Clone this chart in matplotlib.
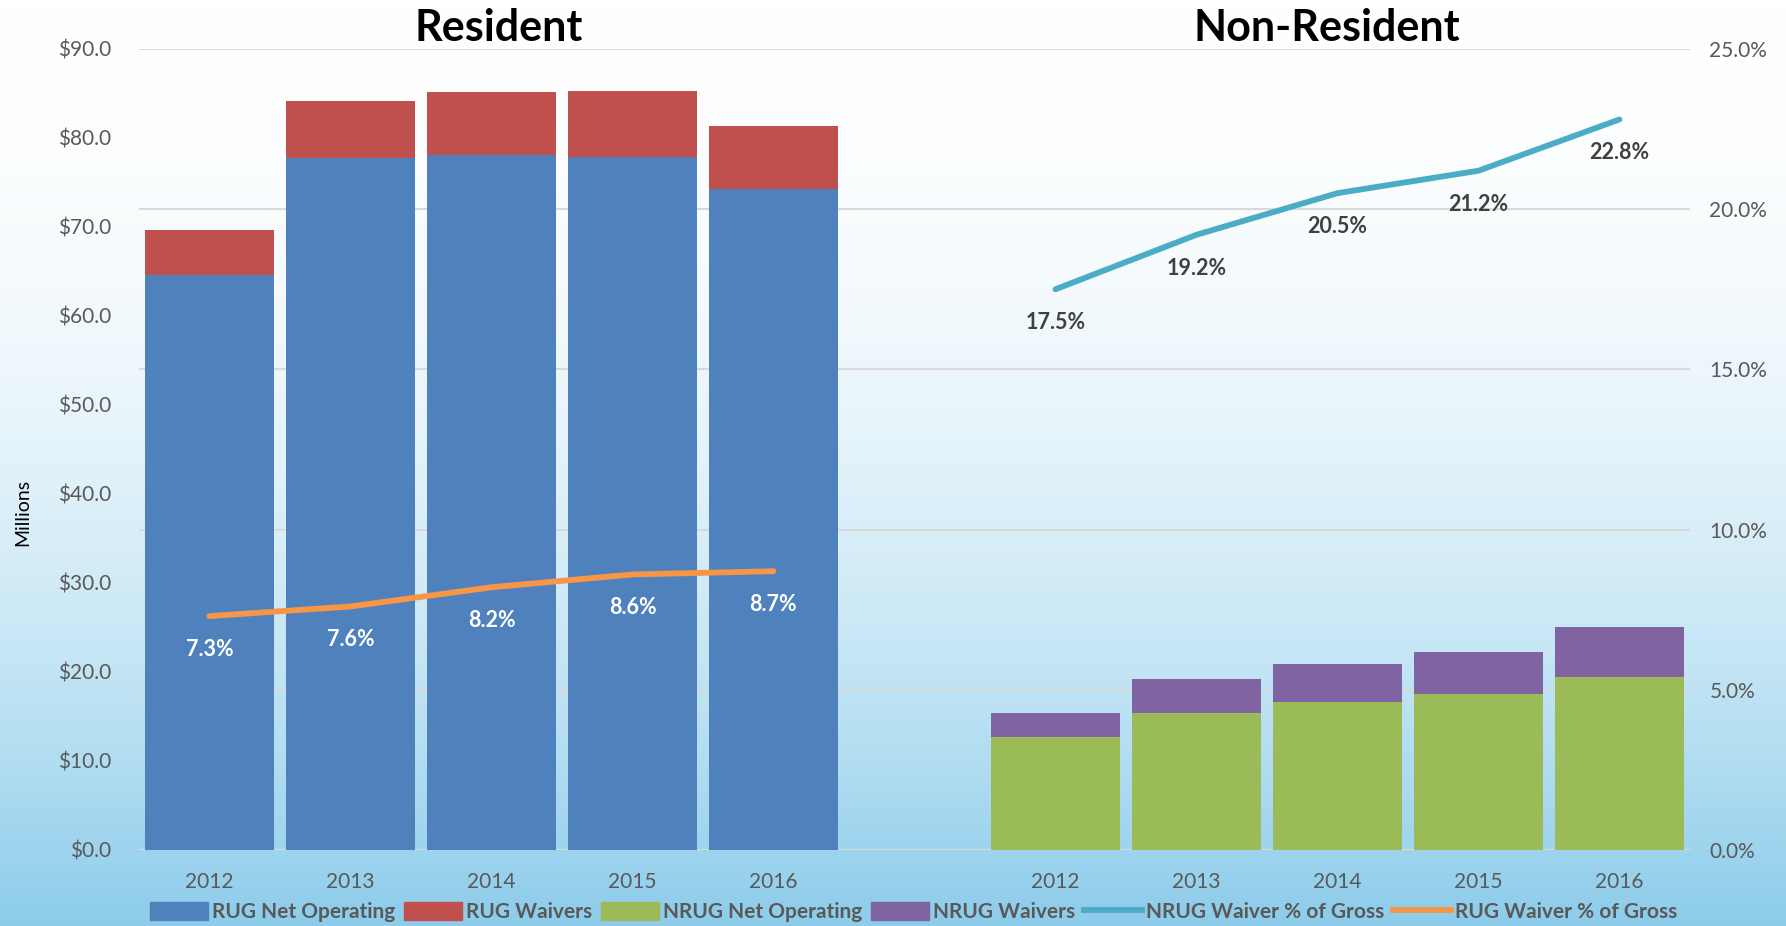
import numpy as np
import matplotlib
matplotlib.use("Agg")
import matplotlib.pyplot as plt
from matplotlib.patches import Patch
from matplotlib.lines import Line2D

plt.rcParams['font.family'] = ['Lato', 'DejaVu Sans']

years = ["2012", "2013", "2014", "2015", "2016"]

# Resident (millions $)
rug_net = [64.6, 77.7, 78.1, 77.9, 74.3]
rug_waivers = [5.1, 6.4, 7.1, 7.4, 7.0]
rug_pct = [7.3, 7.6, 8.2, 8.6, 8.7]

# Non-resident (millions $)
nrug_net = [12.7, 15.4, 16.6, 17.5, 19.4]
nrug_waivers = [2.7, 3.8, 4.3, 4.7, 5.7]
nrug_pct = [17.5, 19.2, 20.5, 21.2, 22.8]

c_blue = "#4F81BD"
c_red = "#C0504D"
c_green = "#9BBB59"
c_purple = "#8064A2"
c_teal = "#4BACC6"
c_orange = "#F79646"
c_text = "#595959"

fig = plt.figure(figsize=(17.86, 9.26), dpi=100)

# background gradient: white at top to light blue at bottom
bg = fig.add_axes([0, 0, 1, 1], zorder=-10)
t = np.linspace(0, 1, 256) ** 2.0
top = np.array([1.0, 1.0, 1.0])
bot = np.array([0.55, 0.80, 0.92])
grad = top[None, :] * (1 - t[:, None]) + bot[None, :] * t[:, None]
bg.imshow(grad[:, None, :], aspect="auto", extent=[0, 1, 0, 1], origin="upper")
bg.axis("off")

ax = fig.add_axes([0.0778, 0.0821, 0.8684, 0.865])
ax.patch.set_alpha(0)
ax2 = ax.twinx()

res_x = np.arange(5)
non_x = np.arange(6, 11)
w = 0.91

ax.bar(res_x, rug_net, w, color=c_blue, zorder=3)
ax.bar(res_x, rug_waivers, w, bottom=rug_net, color=c_red, zorder=3)
ax.bar(non_x, nrug_net, w, color=c_green, zorder=3)
ax.bar(non_x, nrug_waivers, w, bottom=nrug_net, color=c_purple, zorder=3)

ax.set_ylim(0, 90)
ax.set_yticks(np.arange(0, 91, 10))
ax.set_yticklabels(["${:.1f}".format(v) for v in np.arange(0, 91, 10)])
ax.set_xlim(-0.5, 10.5)
ax.set_xticks(list(res_x) + list(non_x))
ax.set_xticklabels(years + years)
fig.text(0.013, 0.447, "Millions", rotation=90, ha="center", va="center", fontsize=14, color="black")

ax2.set_ylim(0, 25)
ax2.set_yticks(np.arange(0, 26, 5))
ax2.set_yticklabels(["{:.1f}%".format(v) for v in np.arange(0, 26, 5)])
ax2.grid(axis="y", color="#d9d9d9", linewidth=1.5, zorder=0)
ax.set_zorder(ax2.get_zorder() + 1)
ax2.patch.set_visible(True)
ax2.patch.set_alpha(0)

ax.plot(non_x, [p * 90 / 25 for p in nrug_pct], color=c_teal, lw=4.2,
        solid_capstyle="round", zorder=5)
ax.plot(res_x, [p * 90 / 25 for p in rug_pct], color=c_orange, lw=4.2,
        solid_capstyle="round", zorder=5)

for x, p in zip(res_x, rug_pct):
    ax.annotate("{:.1f}%".format(p), (x, p * 90 / 25), xytext=(0, -24), textcoords="offset points",
                ha="center", va="center", fontsize=15.5, fontweight="bold", color="white", zorder=6)
for x, p in zip(non_x, nrug_pct):
    ax.annotate("{:.1f}%".format(p), (x, p * 90 / 25), xytext=(0, -24), textcoords="offset points",
                ha="center", va="center", fontsize=15.5, fontweight="bold", color="#404040", zorder=6)

for a in (ax, ax2):
    for s in a.spines.values():
        s.set_visible(False)
    a.tick_params(length=0, labelsize=15, labelcolor=c_text)
ax.tick_params(axis="y", pad=20)
ax.tick_params(axis="x", pad=16)
ax2.tick_params(axis="y", pad=14)

fig.text(0.279, 0.970, "Resident", ha="center", va="center", fontsize=31, fontweight="bold")
fig.text(0.743, 0.970, "Non-Resident", ha="center", va="center", fontsize=31, fontweight="bold")

handles = [
    Patch(color=c_blue, label="RUG Net Operating"),
    Patch(color=c_red, label="RUG Waivers"),
    Patch(color=c_green, label="NRUG Net Operating"),
    Patch(color=c_purple, label="NRUG Waivers"),
    Line2D([], [], color=c_teal, lw=4.2, label="NRUG Waiver % of Gross"),
    Line2D([], [], color=c_orange, lw=4.2, label="RUG Waiver % of Gross"),
]
leg = fig.legend(handles=handles, loc="center", bbox_to_anchor=(0.5115, 0.015), ncol=6,
                 frameon=False, fontsize=15, handlelength=2.8, handleheight=0.9,
                 handletextpad=0.2, columnspacing=0.4)
for txt in leg.get_texts():
    txt.set_color(c_text)
    txt.set_fontweight("bold")

fig.savefig("out.png", dpi=100)
